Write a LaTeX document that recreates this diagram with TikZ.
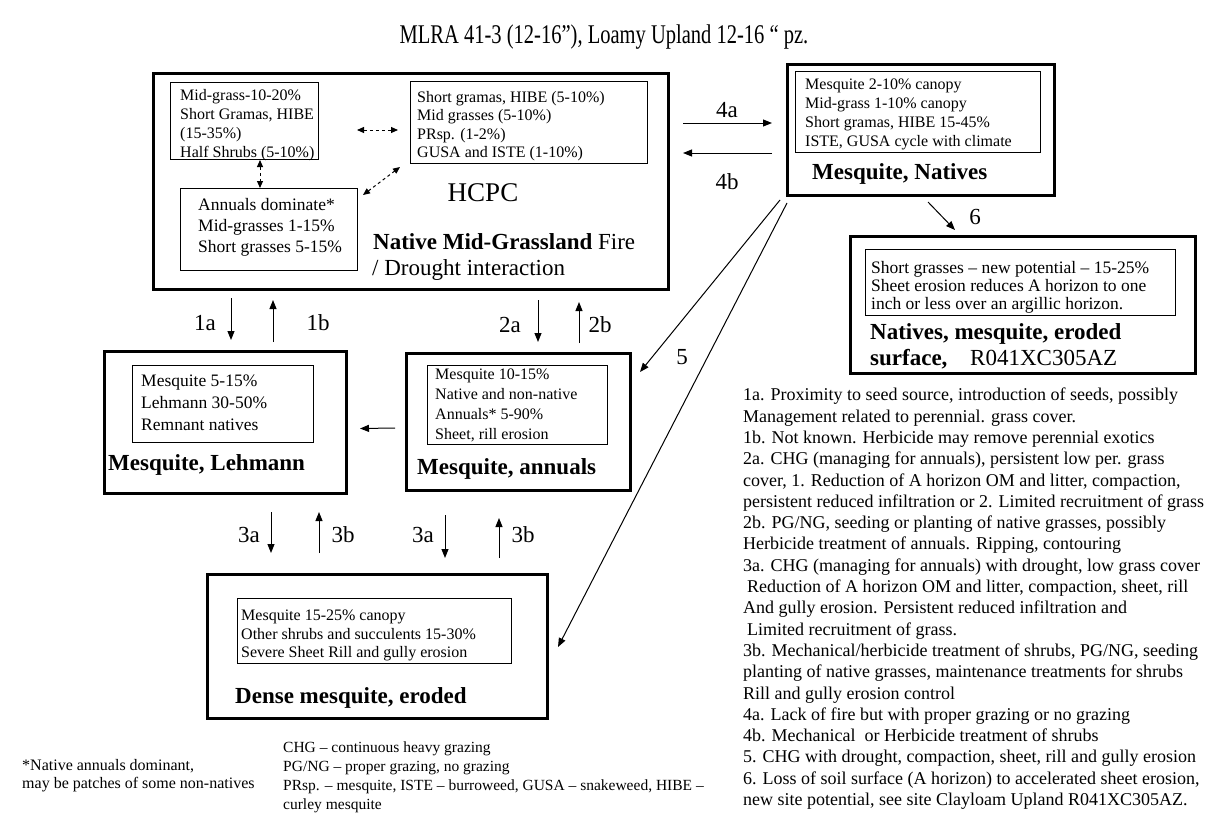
\documentclass[tikz,border=0pt]{standalone}
\usepackage{fontspec}
\usepackage{graphicx}
\setmainfont{Liberation Serif}
\usetikzlibrary{arrows.meta,calc}
\newcommand\myfs[2]{\fontsize{#1}{#2}\selectfont}
\begin{document}
\begin{tikzpicture}[x=1pt,y=-1pt,
  outerbox/.style={draw, line width=3pt, inner sep=0pt, anchor=north west},
  innerbox/.style={draw, line width=0.9pt, inner sep=0pt, anchor=north west},
  txt/.style={inner sep=0pt, anchor=north west, align=left},
  ttl/.style={inner sep=0pt, anchor=base west, font=\myfs{23}{26}\bfseries},
  lbl/.style={inner sep=0pt, anchor=center, font=\myfs{23}{26}},
  arr/.style={line width=1pt, -{Triangle[length=9pt,width=7pt]}},
  darr/.style={line width=1pt, dash pattern=on 3pt off 3pt, {Triangle[length=7pt,width=6pt]}-{Triangle[length=7pt,width=6pt]}},
]
\useasboundingbox (0,0) rectangle (1206,814);
\fill[white] (0,0) rectangle (1206,814);

% title
\node[inner sep=0pt, font=\myfs{27}{30}] (title) at (604,37) {\scalebox{0.76}[1]{MLRA 41-3 (12-16”), Loamy Upland 12-16 “ pz.}};

% HCPC
\node[outerbox, minimum width=515pt, minimum height=216pt] (hcpc) at (152,72) {};
\node[innerbox, minimum width=148pt, minimum height=77pt] (bA) at (170,82) {};
\node[txt, font=\myfs{16}{19}] (tA) at (180,89) {Mid-grass-10-20\%\\Short Gramas, HIBE\\(15-35\%)\\Half Shrubs (5-10\%)};
\node[innerbox, minimum width=237pt, minimum height=82pt] (bB) at (410,81) {};
\node[txt, font=\myfs{16}{18.5}] (tB) at (417,91) {Short gramas, HIBE (5-10\%)\\Mid grasses (5-10\%)\\PRsp. (1-2\%)\\GUSA and ISTE (1-10\%)};
\node[innerbox, minimum width=177pt, minimum height=82pt] (bC) at (180,188) {};
\node[txt, font=\myfs{17.5}{21}] (tC) at (198,198) {Annuals dominate*\\Mid-grasses 1-15\%\\Short grasses 5-15\%};
\node[inner sep=0pt, font=\myfs{27}{30}] (hcpclbl) at (483,193) {HCPC};
\node[ttl] (hcpct1) at (373,249) {Native Mid-Grassland \mdseries Fire};
\node[inner sep=0pt, anchor=base west, font=\myfs{23}{26}] (hcpct2) at (372,275) {/ Drought interaction};

\coordinate (dh1) at (357,130); \coordinate (dh2) at (398,130);
\coordinate (dv1) at (260,160); \coordinate (dv2) at (260,188);
\coordinate (dd1) at (363,195); \coordinate (dd2) at (400,167);
\draw[darr] (dh1) -- (dh2);
\draw[darr] (dv1) -- (dv2);
\draw[darr] (dd1) -- (dd2);

% Mesquite, Natives
\node[outerbox, minimum width=267pt, minimum height=131pt] (mn) at (786,63) {};
\node[innerbox, minimum width=245pt, minimum height=81pt] (mni) at (795,71) {};
\node[txt, font=\myfs{16}{19}] (mnt) at (805,79) {Mesquite 2-10\% canopy\\Mid-grass 1-10\% canopy\\Short gramas, HIBE 15-45\%\\ISTE, GUSA cycle with climate};
\node[ttl] (mnttl) at (812,179) {Mesquite, Natives};

\coordinate (a4s) at (683,123); \coordinate (a4e) at (772,123);
\coordinate (b4s) at (772,153); \coordinate (b4e) at (683,153);
\draw[arr] (a4s) -- (a4e);
\draw[arr] (b4s) -- (b4e);
\node[lbl] (l4a) at (727,110) {4a};
\node[lbl] (l4b) at (727,182) {4b};

% Natives, mesquite, eroded
\node[outerbox, minimum width=345pt, minimum height=137pt] (ne) at (849,235) {};
\node[innerbox, minimum width=310pt, minimum height=66pt] (nei) at (865,249) {};
\node[txt, font=\myfs{17.5}{18}] (net) at (871,261) {Short grasses – new potential – 15-25\%\\Sheet erosion reduces A horizon to one\\inch or less over an argillic horizon.};
\node[ttl] (nettl1) at (870,339) {Natives, mesquite, eroded};
\node[ttl] (nettl2) at (870,365) {surface,};
\node[inner sep=0pt, anchor=base west, font=\myfs{23}{26}] (nettl3) at (970,365) {R041XC305AZ};

\coordinate (a6s) at (928,202); \coordinate (a6e) at (955,230);
\draw[arr] (a6s) -- (a6e);
\node[lbl] (l6) at (975,217) {6};

% Mesquite, Lehmann
\node[outerbox, minimum width=242pt, minimum height=142pt] (ml) at (103,350) {};
\node[innerbox, minimum width=181pt, minimum height=77pt] (mli) at (132,365) {};
\node[txt, font=\myfs{17.5}{22}] (mlt) at (141,375) {Mesquite 5-15\%\\Lehmann 30-50\%\\Remnant natives};
\node[ttl] (mlttl) at (108,470) {Mesquite, Lehmann};

% Mesquite, annuals
\node[outerbox, minimum width=224pt, minimum height=137pt] (ma) at (405,352) {};
\node[innerbox, minimum width=180pt, minimum height=79pt] (mai) at (427,365) {};
\node[txt, font=\myfs{16}{20}] (mat) at (435,369) {Mesquite 10-15\%\\Native and non-native\\Annuals* 5-90\%\\Sheet, rill erosion};
\node[ttl] (mattl) at (417,474) {Mesquite, annuals};

\draw[arr] ($(ma.west)+(-10,6)$) -- ($(ml.east)+(12,6)$);

% 1a 1b 2a 2b
\coordinate (a1s) at (231,298); \coordinate (a1e) at (231,340);
\coordinate (b1s) at (273,342); \coordinate (b1e) at (273,300);
\coordinate (a2s) at (538,300); \coordinate (a2e) at (538,342);
\coordinate (b2s) at (579,343); \coordinate (b2e) at (579,302);
\draw[arr] (a1s) -- (a1e);
\draw[arr] (b1s) -- (b1e);
\draw[arr] (a2s) -- (a2e);
\draw[arr] (b2s) -- (b2e);
\node[lbl] (l1a) at (205,323) {1a};
\node[lbl] (l1b) at (318,323) {1b};
\node[lbl] (l2a) at (510,325) {2a};
\node[lbl] (l2b) at (600,325) {2b};

% Dense mesquite
\node[outerbox, minimum width=340pt, minimum height=144pt] (dm) at (206,573) {};
\node[innerbox, minimum width=274pt, minimum height=65pt] (dmi) at (237,598) {};
\node[txt, font=\myfs{16}{18.5}] (dmt) at (241,610) {Mesquite 15-25\% canopy\\Other shrubs and succulents 15-30\%\\Severe Sheet Rill and gully erosion};
\node[ttl] (dmttl) at (235,703) {Dense mesquite, eroded};

\coordinate (a3s) at (271,512); \coordinate (a3e) at (271,553);
\coordinate (b3s) at (319,553); \coordinate (b3e) at (319,512);
\coordinate (c3s) at (445,515); \coordinate (c3e) at (445,558);
\coordinate (d3s) at (499,558); \coordinate (d3e) at (499,518);
\draw[arr] (a3s) -- (a3e);
\draw[arr] (b3s) -- (b3e);
\draw[arr] (c3s) -- (c3e);
\draw[arr] (d3s) -- (d3e);
\node[lbl] (l3a) at (249,535) {3a};
\node[lbl] (l3b) at (343,535) {3b};
\node[lbl] (l3c) at (423,535) {3a};
\node[lbl] (l3d) at (523,535) {3b};

% 5
\coordinate (f1s) at (780,200); \coordinate (f1e) at (640,372);
\coordinate (f2s) at (787,203); \coordinate (f2e) at (558,647);
\draw[arr] (f1s) -- (f1e);
\draw[arr] (f2s) -- (f2e);
\node[lbl] (l5) at (682,357) {5};

% notes
\node[txt, font=\myfs{18}{21.3}] (notes) at (743,388) {1a. Proximity to seed source, introduction of seeds, possibly\\
Management related to perennial. grass cover.\\
1b. Not known. Herbicide may remove perennial exotics\\
2a. CHG (managing for annuals), persistent low per. grass\\
cover, 1. Reduction of A horizon OM and litter, compaction,\\
persistent reduced infiltration or 2. Limited recruitment of grass\\
2b. PG/NG, seeding or planting of native grasses, possibly\\
Herbicide treatment of annuals. Ripping, contouring\\
3a. CHG (managing for annuals) with drought, low grass cover\\
\hspace*{4pt}Reduction of A horizon OM and litter, compaction, sheet, rill\\
And gully erosion. Persistent reduced infiltration and\\
\hspace*{4pt}Limited recruitment of grass.\\
3b. Mechanical/herbicide treatment of shrubs, PG/NG, seeding\\
planting of native grasses, maintenance treatments for shrubs\\
Rill and gully erosion control\\
4a. Lack of fire but with proper grazing or no grazing\\
4b. Mechanical\ \ or Herbicide treatment of shrubs\\
5. CHG with drought, compaction, sheet, rill and gully erosion\\
6. Loss of soil surface (A horizon) to accelerated sheet erosion,\\
new site potential, see site Clayloam Upland R041XC305AZ.};

% footnotes
\node[txt, font=\myfs{16}{18}] (foot) at (22,759) {*Native annuals dominant,\\may be patches of some non-natives};
\node[txt, font=\myfs{15.5}{18.7}] (legend) at (283,742) {CHG – continuous heavy grazing\\PG/NG – proper grazing, no grazing\\PRsp. – mesquite, ISTE – burroweed, GUSA – snakeweed, HIBE –\\curley mesquite};
\end{tikzpicture}
\end{document}
